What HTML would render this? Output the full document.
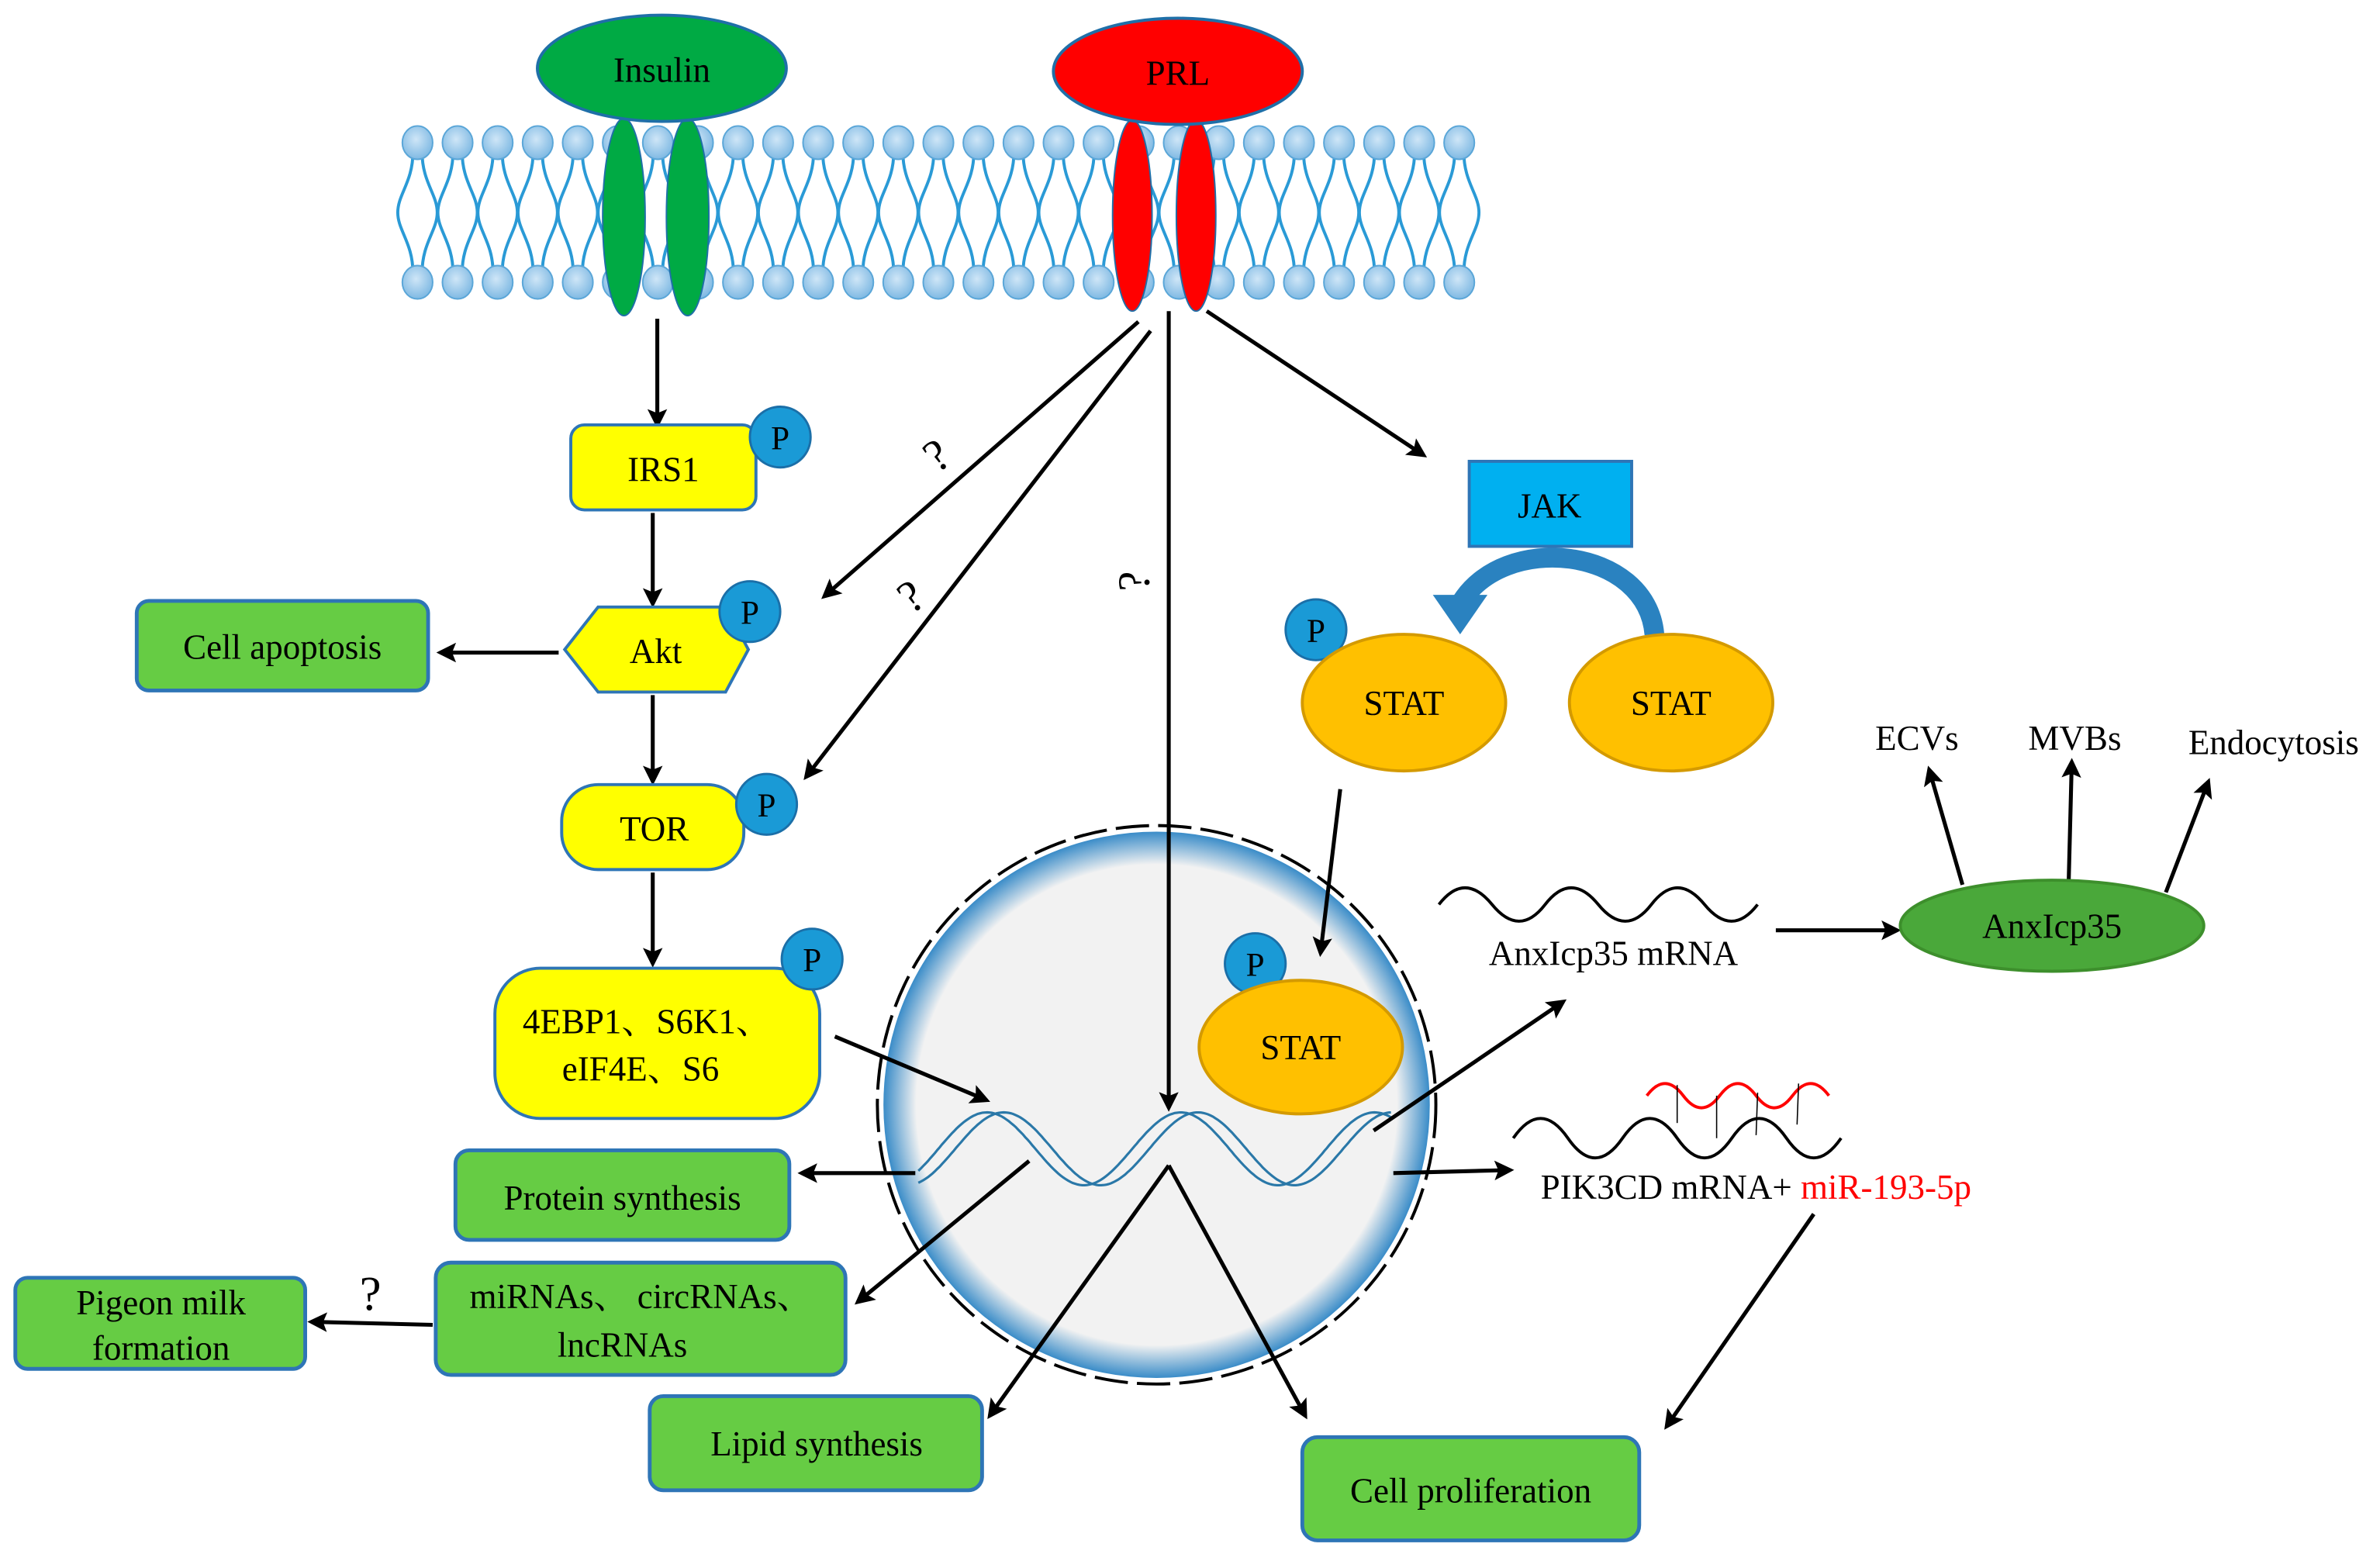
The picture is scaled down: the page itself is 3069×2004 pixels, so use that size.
<!DOCTYPE html>
<html><head><meta charset="utf-8"><style>
html,body{margin:0;padding:0;background:#fff}
svg{display:block}
svg text{font-family:"Liberation Serif","DejaVu Serif","Noto Serif CJK SC",serif;fill:#000}
</style></head><body>
<svg id="s" width="3069" height="2004" viewBox="0 0 1568 1024" xmlns="http://www.w3.org/2000/svg" font-family="Liberation Serif, DejaVu Serif, Noto Serif CJK SC, serif">
<defs>
<marker id="a" viewBox="0 0 10 10" refX="8" refY="5" markerWidth="5" markerHeight="5" orient="auto-start-reverse"><path d="M0,0 L10,5 L0,10 L2,5 z" fill="#000"/></marker>
<radialGradient id="nuc" cx="50%" cy="50%" r="50%"><stop offset="0.88" stop-color="#f2f2f2"/><stop offset="1" stop-color="#3a8cc8"/></radialGradient>
<radialGradient id="head" cx="45%" cy="40%" r="60%"><stop offset="0" stop-color="#cfe6f7"/><stop offset="1" stop-color="#7fb9e3"/></radialGradient>
</defs>
<g id="mem"></g>
<ellipse cx="411" cy="143" rx="14" ry="65" fill="#00aa44" stroke="#1f6fa8" stroke-width="1"/>
<ellipse cx="453" cy="143" rx="14" ry="65" fill="#00aa44" stroke="#1f6fa8" stroke-width="1"/>
<ellipse cx="746" cy="142" rx="13" ry="63" fill="#ff0000" stroke="#1f6fa8" stroke-width="1"/>
<ellipse cx="788" cy="142" rx="13" ry="63" fill="#ff0000" stroke="#1f6fa8" stroke-width="1"/>
<ellipse cx="436" cy="45" rx="82" ry="35" fill="#00aa44" stroke="#1f6fa8" stroke-width="2"/>
<text x="436" y="54" font-size="23" text-anchor="middle">Insulin</text>
<ellipse cx="776" cy="47" rx="82" ry="35" fill="#ff0000" stroke="#1f6fa8" stroke-width="2"/>
<text x="776" y="56" font-size="23" text-anchor="middle">PRL</text>

<circle cx="762" cy="728" r="180" fill="url(#nuc)"/>
<circle cx="762" cy="728" r="184" fill="none" stroke="#000" stroke-width="2" stroke-dasharray="22 6"/>
<path id="dna1" fill="none" stroke="#2a78a8" stroke-width="1.6" d=""/>
<path id="dna2" fill="none" stroke="#2a78a8" stroke-width="1.6" d=""/>

<g stroke="#000" stroke-width="2.6" fill="none" marker-end="url(#a)">
<line x1="433" y1="210" x2="433" y2="280"/>
<line x1="430" y1="338" x2="430" y2="398"/>
<line x1="368" y1="430" x2="290" y2="430"/>
<line x1="430" y1="458" x2="430" y2="515"/>
<line x1="430" y1="575" x2="430" y2="635"/>
<line x1="550" y1="683" x2="650" y2="725"/>
<line x1="750" y1="212" x2="543" y2="393"/>
<line x1="758" y1="218" x2="531" y2="512"/>
<line x1="770" y1="205" x2="770" y2="730"/>
<line x1="795" y1="205" x2="938" y2="300"/>
<line x1="883" y1="520" x2="870" y2="628"/>
<line x1="603" y1="773" x2="528" y2="773"/>
<line x1="678" y1="765" x2="565" y2="858"/>
<line x1="285" y1="873" x2="205" y2="871"/>
<line x1="770" y1="768" x2="652" y2="933"/>
<line x1="770" y1="768" x2="860" y2="933"/>
<line x1="905" y1="745" x2="1030" y2="660"/>
<line x1="1170" y1="613" x2="1250" y2="613"/>
<line x1="1293" y1="583" x2="1271" y2="507"/>
<line x1="1363" y1="580" x2="1365" y2="502"/>
<line x1="1427" y1="588" x2="1455" y2="515"/>
<line x1="918" y1="773" x2="995" y2="771"/>
<line x1="1195" y1="800" x2="1098" y2="940"/>
</g>
<text x="617" y="310" font-size="30" text-anchor="middle" transform="rotate(-35 617 300)">?</text>
<text x="600" y="403" font-size="30" text-anchor="middle" transform="rotate(-35 600 393)">?</text>
<text x="748" y="392" font-size="30" text-anchor="middle" transform="rotate(-90 748 383)">?</text>
<text x="244" y="863" font-size="32" text-anchor="middle">?</text>

<rect x="376" y="280" width="122" height="56" rx="9" fill="#ffff00" stroke="#2e75b6" stroke-width="2"/>
<text x="437" y="317" font-size="23" text-anchor="middle">IRS1</text>
<polygon points="372,428 394,400 478,400 493,428 478,456 394,456" fill="#ffff00" stroke="#2e75b6" stroke-width="2"/>
<text x="432" y="437" font-size="23" text-anchor="middle">Akt</text>
<rect x="370" y="517" width="120" height="56" rx="24" fill="#ffff00" stroke="#2e75b6" stroke-width="2"/>
<text x="431" y="554" font-size="23" text-anchor="middle">TOR</text>
<rect x="326" y="638" width="214" height="99" rx="30" fill="#ffff00" stroke="#2e75b6" stroke-width="2"/>
<text x="426" y="681" font-size="23" text-anchor="middle">4EBP1、S6K1、</text>
<text x="422" y="712" font-size="23" text-anchor="middle">eIF4E、S6</text>

<g fill="#66cc44" stroke="#2e75b6" stroke-width="2.5">
<rect x="90" y="396" width="192" height="59" rx="8"/>
<rect x="300" y="758" width="220" height="59" rx="9"/>
<rect x="287" y="832" width="270" height="74" rx="10"/>
<rect x="10" y="842" width="191" height="60" rx="8"/>
<rect x="428" y="920" width="219" height="62" rx="9"/>
<rect x="858" y="947" width="222" height="68" rx="10"/>
</g>
<text x="186" y="434" font-size="23" text-anchor="middle">Cell apoptosis</text>
<text x="410" y="797" font-size="23" text-anchor="middle">Protein synthesis</text>
<text x="422" y="862" font-size="23" text-anchor="middle">miRNAs、 circRNAs、</text>
<text x="410" y="894" font-size="23" text-anchor="middle">lncRNAs</text>
<text x="106" y="866" font-size="23" text-anchor="middle">Pigeon milk</text>
<text x="106" y="896" font-size="23" text-anchor="middle">formation</text>
<text x="538" y="959" font-size="23" text-anchor="middle">Lipid synthesis</text>
<text x="969" y="990" font-size="23" text-anchor="middle">Cell proliferation</text>

<g fill="#1a9ad6" stroke="#1b6fa8" stroke-width="1.5">
<circle cx="514" cy="288" r="20"/><circle cx="494" cy="403" r="20"/><circle cx="505" cy="530" r="20"/>
<circle cx="535" cy="632" r="20"/><circle cx="867" cy="415" r="20"/><circle cx="827" cy="635" r="20"/>
</g>
<g font-size="22" text-anchor="middle">
<text x="514" y="296">P</text><text x="494" y="411">P</text><text x="505" y="538">P</text>
<text x="535" y="640">P</text><text x="867" y="423">P</text><text x="827" y="643">P</text>
</g>

<rect x="968" y="304" width="107" height="56" fill="#00b0f0" stroke="#2e75b6" stroke-width="2"/>
<text x="1021" y="341" font-size="23" text-anchor="middle">JAK</text>
<path d="M1090,418 C1085,360 990,350 962,398" fill="none" stroke="#2a82c0" stroke-width="13"/>
<polygon points="944,392 980,392 962,418" fill="#2a82c0"/>
<g fill="#ffc000" stroke="#d49a00" stroke-width="2">
<ellipse cx="925" cy="463" rx="67" ry="45"/><ellipse cx="1101" cy="463" rx="67" ry="45"/><ellipse cx="857" cy="690" rx="67" ry="44"/>
</g>
<text x="925" y="471" font-size="23" text-anchor="middle">STAT</text>
<text x="1101" y="471" font-size="23" text-anchor="middle">STAT</text>
<text x="857" y="698" font-size="23" text-anchor="middle">STAT</text>

<path d="M948,596 q17,-22 35,0 t35,0 t35,0 t35,0 t35,0 t35,0" fill="none" stroke="#000" stroke-width="2"/>
<text x="1063" y="636" font-size="23" text-anchor="middle">AnxIcp35 mRNA</text>
<ellipse cx="1352" cy="610" rx="100" ry="30" fill="#4aa83a" stroke="#3d8f2c" stroke-width="2"/>
<text x="1352" y="618" font-size="23" text-anchor="middle">AnxIcp35</text>
<text x="1263" y="494" font-size="23" text-anchor="middle">ECVs</text>
<text x="1367" y="494" font-size="23" text-anchor="middle">MVBs</text>
<text x="1498" y="497" font-size="23" text-anchor="middle">Endocytosis</text>
<path d="M997,750 q18,-26 36,0 t36,0 t36,0 t36,0 t36,0 t36,0" fill="none" stroke="#000" stroke-width="2"/>
<path d="M1085,722 q12,-16 24,0 t24,0 t24,0 t24,0 t24,0" fill="none" stroke="#ff0000" stroke-width="2"/>
<g stroke="#000" stroke-width="0.8"><line x1="1105" y1="715" x2="1105" y2="740"/><line x1="1131" y1="722" x2="1131" y2="750"/><line x1="1158" y1="720" x2="1157" y2="748"/><line x1="1185" y1="714" x2="1184" y2="741"/></g>
<text x="1015" y="790" font-size="23">PIK3CD mRNA+ <tspan fill="#ff0000">miR-193-5p</tspan></text>
</svg>
<script>
(function(){
var g=document.getElementById("mem"),h="";
var x0=275,dx=26.4,n=27;
for(var i=0;i<n;i++){var x=x0+i*dx;
 h+='<path d="M'+(x-3)+',100 C'+(x-3)+',120 '+(x-13)+',128 '+(x-13)+',140 C'+(x-13)+',152 '+(x-3)+',160 '+(x-3)+',180" fill="none" stroke="#2a9ad6" stroke-width="2"/>';
 h+='<path d="M'+(x+3)+',100 C'+(x+3)+',120 '+(x+13)+',128 '+(x+13)+',140 C'+(x+13)+',152 '+(x+3)+',160 '+(x+3)+',180" fill="none" stroke="#2a9ad6" stroke-width="2"/>';
}
for(var i=0;i<n;i++){var x=x0+i*dx;
 h+='<ellipse cx="'+x+'" cy="94" rx="10" ry="11" fill="url(#head)" stroke="#5aa6d8" stroke-width="1"/>';
 h+='<ellipse cx="'+x+'" cy="186" rx="10" ry="11" fill="url(#head)" stroke="#5aa6d8" stroke-width="1"/>';
}
g.innerHTML=h;
function wave(ph){var d="";for(var t=0;t<=1;t+=0.005){var x=605+t*313;var y=757-24*Math.sin((x-605)/313*Math.PI*2*2.45+ph);d+=(t==0?"M":"L")+x.toFixed(1)+","+y.toFixed(1)+" ";}return d;}
document.getElementById("dna1").setAttribute("d",wave(-1.2));
document.getElementById("dna2").setAttribute("d",wave(-0.65));
})();
</script>
</body></html>
